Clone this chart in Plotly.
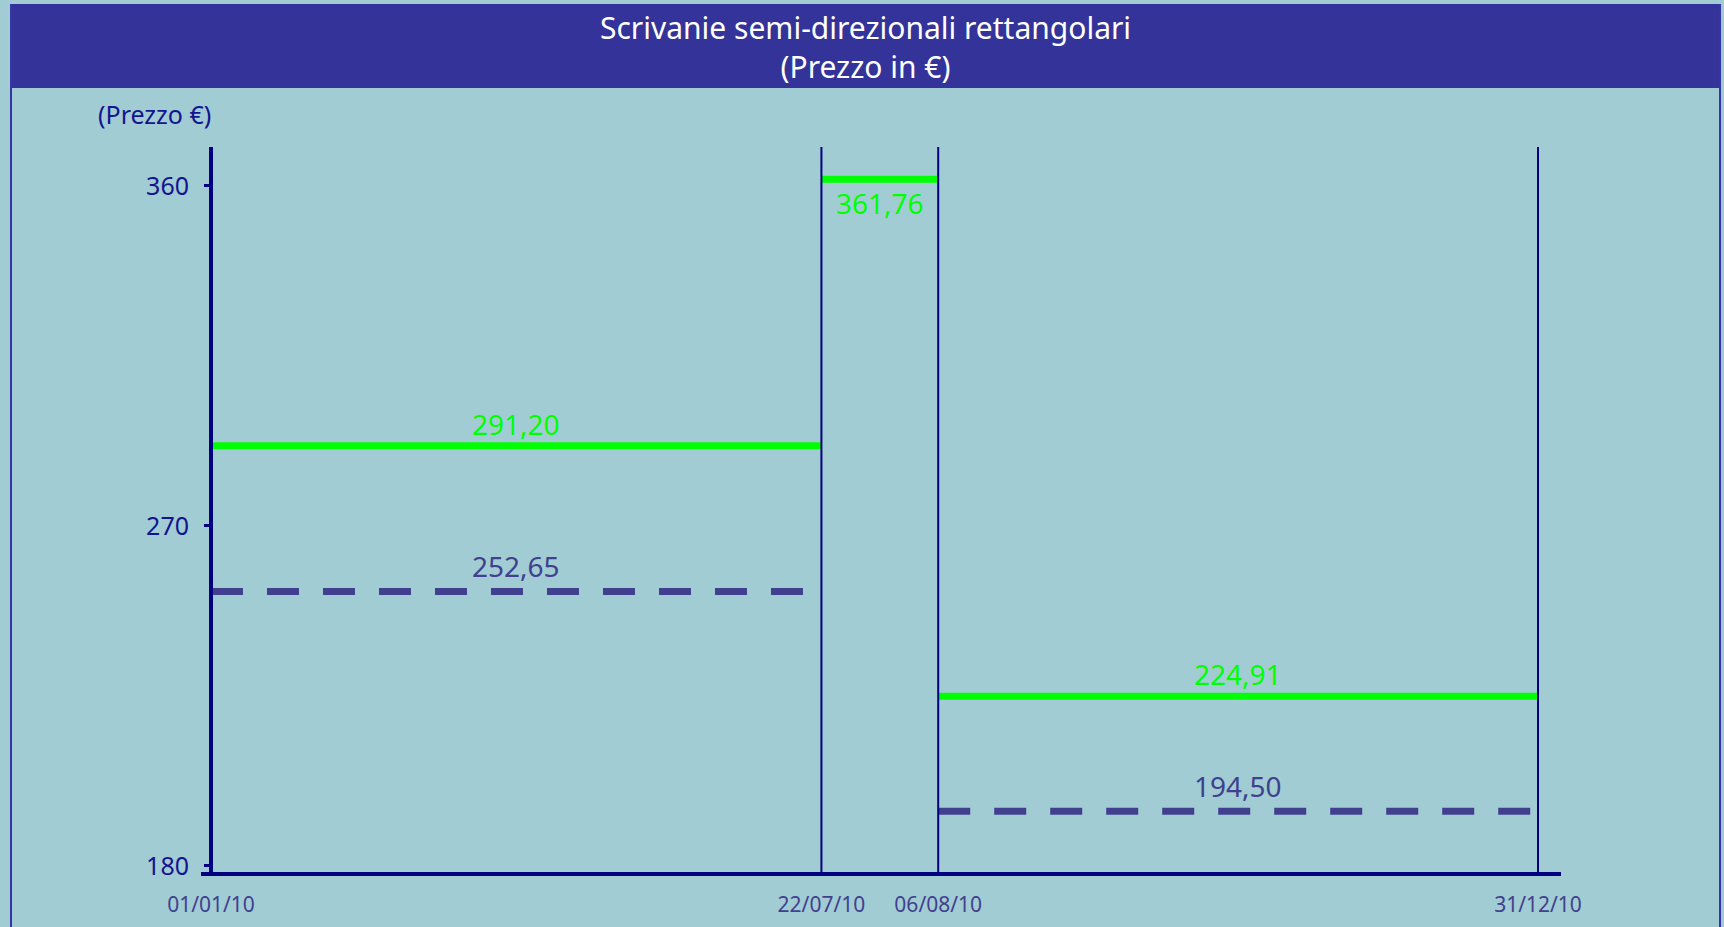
import plotly.graph_objects as go

# ---- data ----
boundary_labels = ["01/01/10", "22/07/10", "06/08/10", "31/12/10"]
# position of each date on the chart's (non-calendar) time axis, in % of the span
boundary_pos = [0.0, 46.0, 54.8, 100.0]

# one value per period (period i runs from boundary i to boundary i+1)
series_solid = [291.20, 361.76, 224.91]   # green solid lines
series_dashed = [252.65, None, 194.50]    # dashed slate lines

y_ticks = [180, 270, 360]

# ---- styles ----
BG = "#A2CCD3"
BAND = "#343399"
NAVY = "#000080"
TXT_NAVY = "#14148f"
GREEN = "#00FF00"
SLATE = "#40408f"
FONT = "Noto Sans"

W, H = 1724, 927
L, R, T, B = 201, 163, 147, 55
pw, ph = W - L - R, H - T - B


def px_to_paper_x(px):
    return (px - L) / pw


def px_to_paper_y(py):
    return (H - B - py) / ph


def fmt(v):
    return f"{v:.2f}".replace(".", ",")


fig = go.Figure()
annotations = []

for i, v in enumerate(series_solid):
    if v is None:
        continue
    x0, x1 = boundary_pos[i], boundary_pos[i + 1]
    fig.add_trace(go.Scatter(x=[x0, x1], y=[v, v], mode="lines",
                             line=dict(color=GREEN, width=7),
                             showlegend=False, hoverinfo="skip"))
    below = v == max(series_solid)
    annotations.append(dict(x=(x0 + x1) / 2, y=v, xref="x", yref="y",
                            text=fmt(v), showarrow=False,
                            yshift=-24 if below else 22,
                            font=dict(family=FONT, size=28, color=GREEN)))

for i, v in enumerate(series_dashed):
    if v is None:
        continue
    x0, x1 = boundary_pos[i], boundary_pos[i + 1]
    fig.add_trace(go.Scatter(x=[x0, x1], y=[v, v], mode="lines",
                             line=dict(color=SLATE, width=7, dash="32px,24px"),
                             showlegend=False, hoverinfo="skip"))
    annotations.append(dict(x=(x0 + x1) / 2, y=v, xref="x", yref="y",
                            text=fmt(v), showarrow=False, yshift=25,
                            font=dict(family=FONT, size=28, color=SLATE)))

shapes = []
# vertical period separators
for bp in boundary_pos[1:]:
    shapes.append(dict(type="line", xref="x", yref="y domain", x0=bp, x1=bp,
                       y0=0, y1=1, line=dict(color=NAVY, width=2)))

# title band and outer frame
fx0, fx1 = px_to_paper_x(11), px_to_paper_x(1720)
shapes.append(dict(type="rect", xref="paper", yref="paper",
                   x0=fx0, x1=fx1, y0=px_to_paper_y(88), y1=px_to_paper_y(4),
                   fillcolor=BAND, line=dict(width=0), layer="below"))
for fx in (fx0, fx1):
    shapes.append(dict(type="line", xref="paper", yref="paper", x0=fx, x1=fx,
                       y0=px_to_paper_y(927), y1=px_to_paper_y(4),
                       line=dict(color="#3535a8", width=2)))

title_x = px_to_paper_x((11 + 1720) / 2)
annotations.append(dict(x=title_x, y=px_to_paper_y(47), xref="paper", yref="paper",
                        text="Scrivanie semi-direzionali rettangolari<br>(Prezzo in €)",
                        showarrow=False, align="center",
                        xanchor="center", yanchor="middle",
                        font=dict(family=FONT, size=30, color="white")))
annotations.append(dict(x=px_to_paper_x(154), y=px_to_paper_y(114), xref="paper", yref="paper",
                        text="(Prezzo €)", showarrow=False,
                        xanchor="center", yanchor="middle",
                        font=dict(family=FONT, size=25, color=TXT_NAVY)))

# x range: 0 at 211px, 100 at 1538px
ppu = (1538 - 211) / 100.0
x_lo = -(211 - L) / ppu
x_hi = 100 + (L + pw - 1538) / ppu

fig.update_layout(
    width=W, height=H,
    margin=dict(l=L, r=R, t=T, b=B, autoexpand=False),
    paper_bgcolor=BG, plot_bgcolor=BG,
    showlegend=False,
    shapes=shapes,
    annotations=annotations,
    xaxis=dict(range=[x_lo, x_hi], tickvals=boundary_pos, ticktext=boundary_labels,
               automargin=False,
               showgrid=False, zeroline=False, showline=True, linecolor=NAVY, linewidth=4,
               ticks="outside", ticklen=11, tickcolor="rgba(0,0,0,0)",
               tickfont=dict(family=FONT, size=21, color=SLATE)),
    yaxis=dict(range=[178.4, 370.3], tickvals=y_ticks, ticktext=[str(t) for t in y_ticks],
               automargin=False,
               anchor="free", position=(211 - L) / pw,
               showgrid=False, zeroline=False, showline=True, linecolor=NAVY, linewidth=4,
               ticks="outside", ticklen=5, tickwidth=3, tickcolor=NAVY,
               ticklabelstandoff=10,
               tickfont=dict(family=FONT, size=25, color=TXT_NAVY)),
)

fig.write_html("out.html", config={"displayModeBar": False},
               post_script="document.body.style.margin='0';document.body.style.overflow='hidden';")
